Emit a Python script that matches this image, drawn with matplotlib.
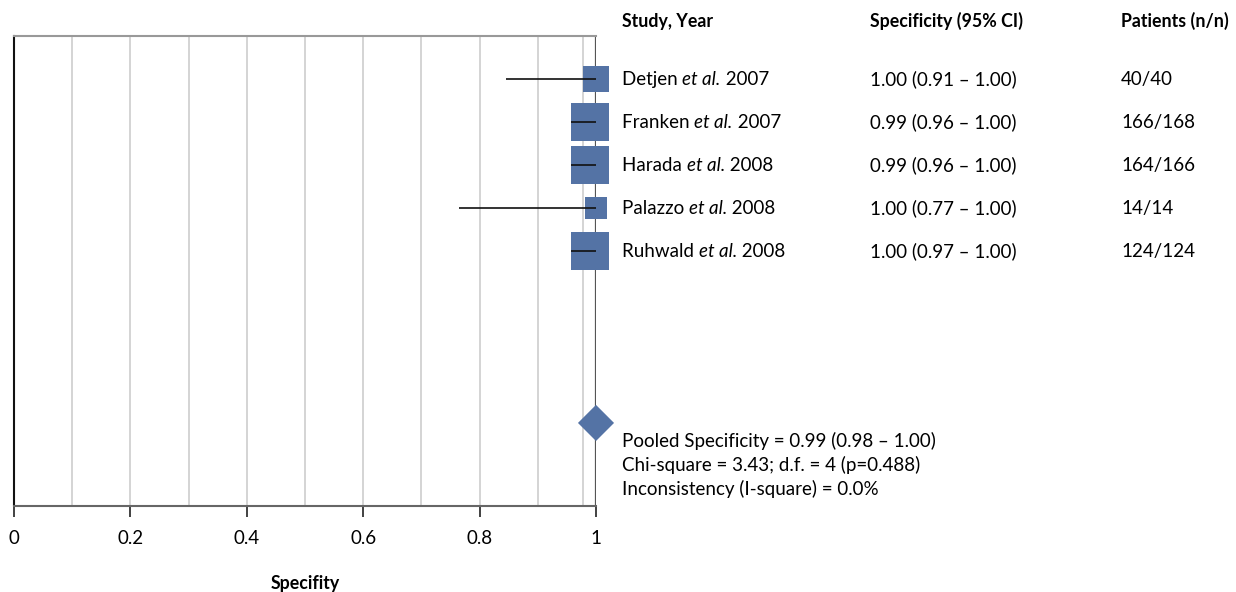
import matplotlib
matplotlib.use("Agg")
import matplotlib.pyplot as plt
import matplotlib.transforms as mtransforms
from matplotlib.patches import Polygon

plt.rcParams["font.family"] = ["Lato", "DejaVu Sans"]

# data
authors  = ["Detjen", "Franken", "Harada", "Palazzo", "Ruhwald"]
years    = ["2007", "2007", "2008", "2008", "2008"]
estimate = [1.00, 0.99, 0.99, 1.00, 0.99]
ci_low   = [0.845, 0.957, 0.957, 0.765, 0.957]
ci_high  = [1.00, 1.00, 1.00, 1.00, 1.00]
ci_text  = ["1.00 (0.91 \u2013 1.00)", "0.99 (0.96 \u2013 1.00)", "0.99 (0.96 \u2013 1.00)",
            "1.00 (0.77 \u2013 1.00)", "1.00 (0.97 \u2013 1.00)"]
patients = ["40/40", "166/168", "164/166", "14/14", "124/124"]
pooled = 1.00
stats_lines = ["Pooled Specificity = 0.99 (0.98 \u2013 1.00)",
               "Chi-square = 3.43; d.f. = 4 (p=0.488)",
               "Inconsistency (I-square) = 0.0%"]
xticks = [0, 0.2, 0.4, 0.6, 0.8, 1.0]
xtick_labels = ["0", "0.2", "0.4", "0.6", "0.8", "1"]
grid_x = [0.1, 0.2, 0.3, 0.4, 0.5, 0.6, 0.7, 0.8, 0.9, 0.977]

# style
BLUE = "#5473A5"
box_sizes = [330, 760, 760, 230, 760]
FS = 13.5
FS_HEAD = 12.8
BASE = 0.15  # baseline offset below row centre, in row units

fig = plt.figure(figsize=(12.36, 5.92), dpi=100)
ax = fig.add_axes([14 / 1236, 1 - 505.5 / 592, 582 / 1236, 469.5 / 592])
ax.set_xlim(0, 1)
ax.set_ylim(10.92, 0)

for gx in grid_x:
    ax.axvline(gx, color="#d4d4d4", lw=1.4, zorder=0)
ax.axvline(1.0, color="#555555", lw=1.6, zorder=1)

rows = list(range(1, len(authors) + 1))
ax.scatter(estimate, rows, s=box_sizes, marker="s", color=BLUE, zorder=2,
           linewidths=0, clip_on=False)
ax.hlines(rows, ci_low, ci_high, color="#111111", lw=1.2, zorder=3)

py = 9.0
hw, hh = 0.031, 0.42
ax.add_patch(Polygon([(pooled - hw, py), (pooled, py - hh), (pooled + hw, py), (pooled, py + hh)],
                     closed=True, facecolor=BLUE, edgecolor="none", zorder=4, clip_on=False))

ax.spines["right"].set_visible(False)
ax.spines["left"].set_color("#111111")
ax.spines["left"].set_linewidth(1.5)
ax.spines["top"].set_color("#999999")
ax.spines["top"].set_linewidth(1.5)
ax.spines["bottom"].set_color("#666666")
ax.spines["bottom"].set_linewidth(1.5)

ax.set_yticks([])
ax.set_xticks(xticks)
ax.set_xticklabels(xtick_labels, fontsize=FS)
ax.tick_params(axis="x", direction="out", length=8, width=1.3, color="#333333", pad=10)
ax.set_xlabel("Specifity", fontsize=FS_HEAD, fontweight="bold", labelpad=20)

trans = mtransforms.blended_transform_factory(fig.transFigure, ax.transData)
col_x = [622 / 1236, 870 / 1236, 1121 / 1236]
headers = ["Study, Year", "Specificity (95% CI)", "Patients (n/n)"]
for cx, h in zip(col_x, headers):
    fig.text(cx, 1 - 21 / 592, h, fontsize=FS_HEAD, fontweight="bold", va="center", ha="left")

renderer = fig.canvas.get_renderer()
for r, au, yr, ct, pt in zip(rows, authors, years, ci_text, patients):
    yb = r + BASE
    # author + italic "et al." + year, chained along the baseline
    x = col_x[0]
    for piece, style in [(au + " ", "normal"), ("et al.", "italic"), (" " + yr, "normal")]:
        t = ax.text(x, yb, piece, transform=trans, fontsize=FS, style=style,
                    va="baseline", ha="left", clip_on=False)
        bb = t.get_window_extent(renderer)
        x = fig.transFigure.inverted().transform((bb.x1, 0))[0]
    ax.text(col_x[1], yb, ct, transform=trans, fontsize=FS, va="baseline", ha="left", clip_on=False)
    ax.text(col_x[2], yb, pt, transform=trans, fontsize=FS, va="baseline", ha="left", clip_on=False)

for i, line in enumerate(stats_lines):
    fig.text(col_x[0], 1 - (441 + 24 * i) / 592, line, fontsize=FS, va="center", ha="left")

fig.savefig("out.png", dpi=100, facecolor="white")
